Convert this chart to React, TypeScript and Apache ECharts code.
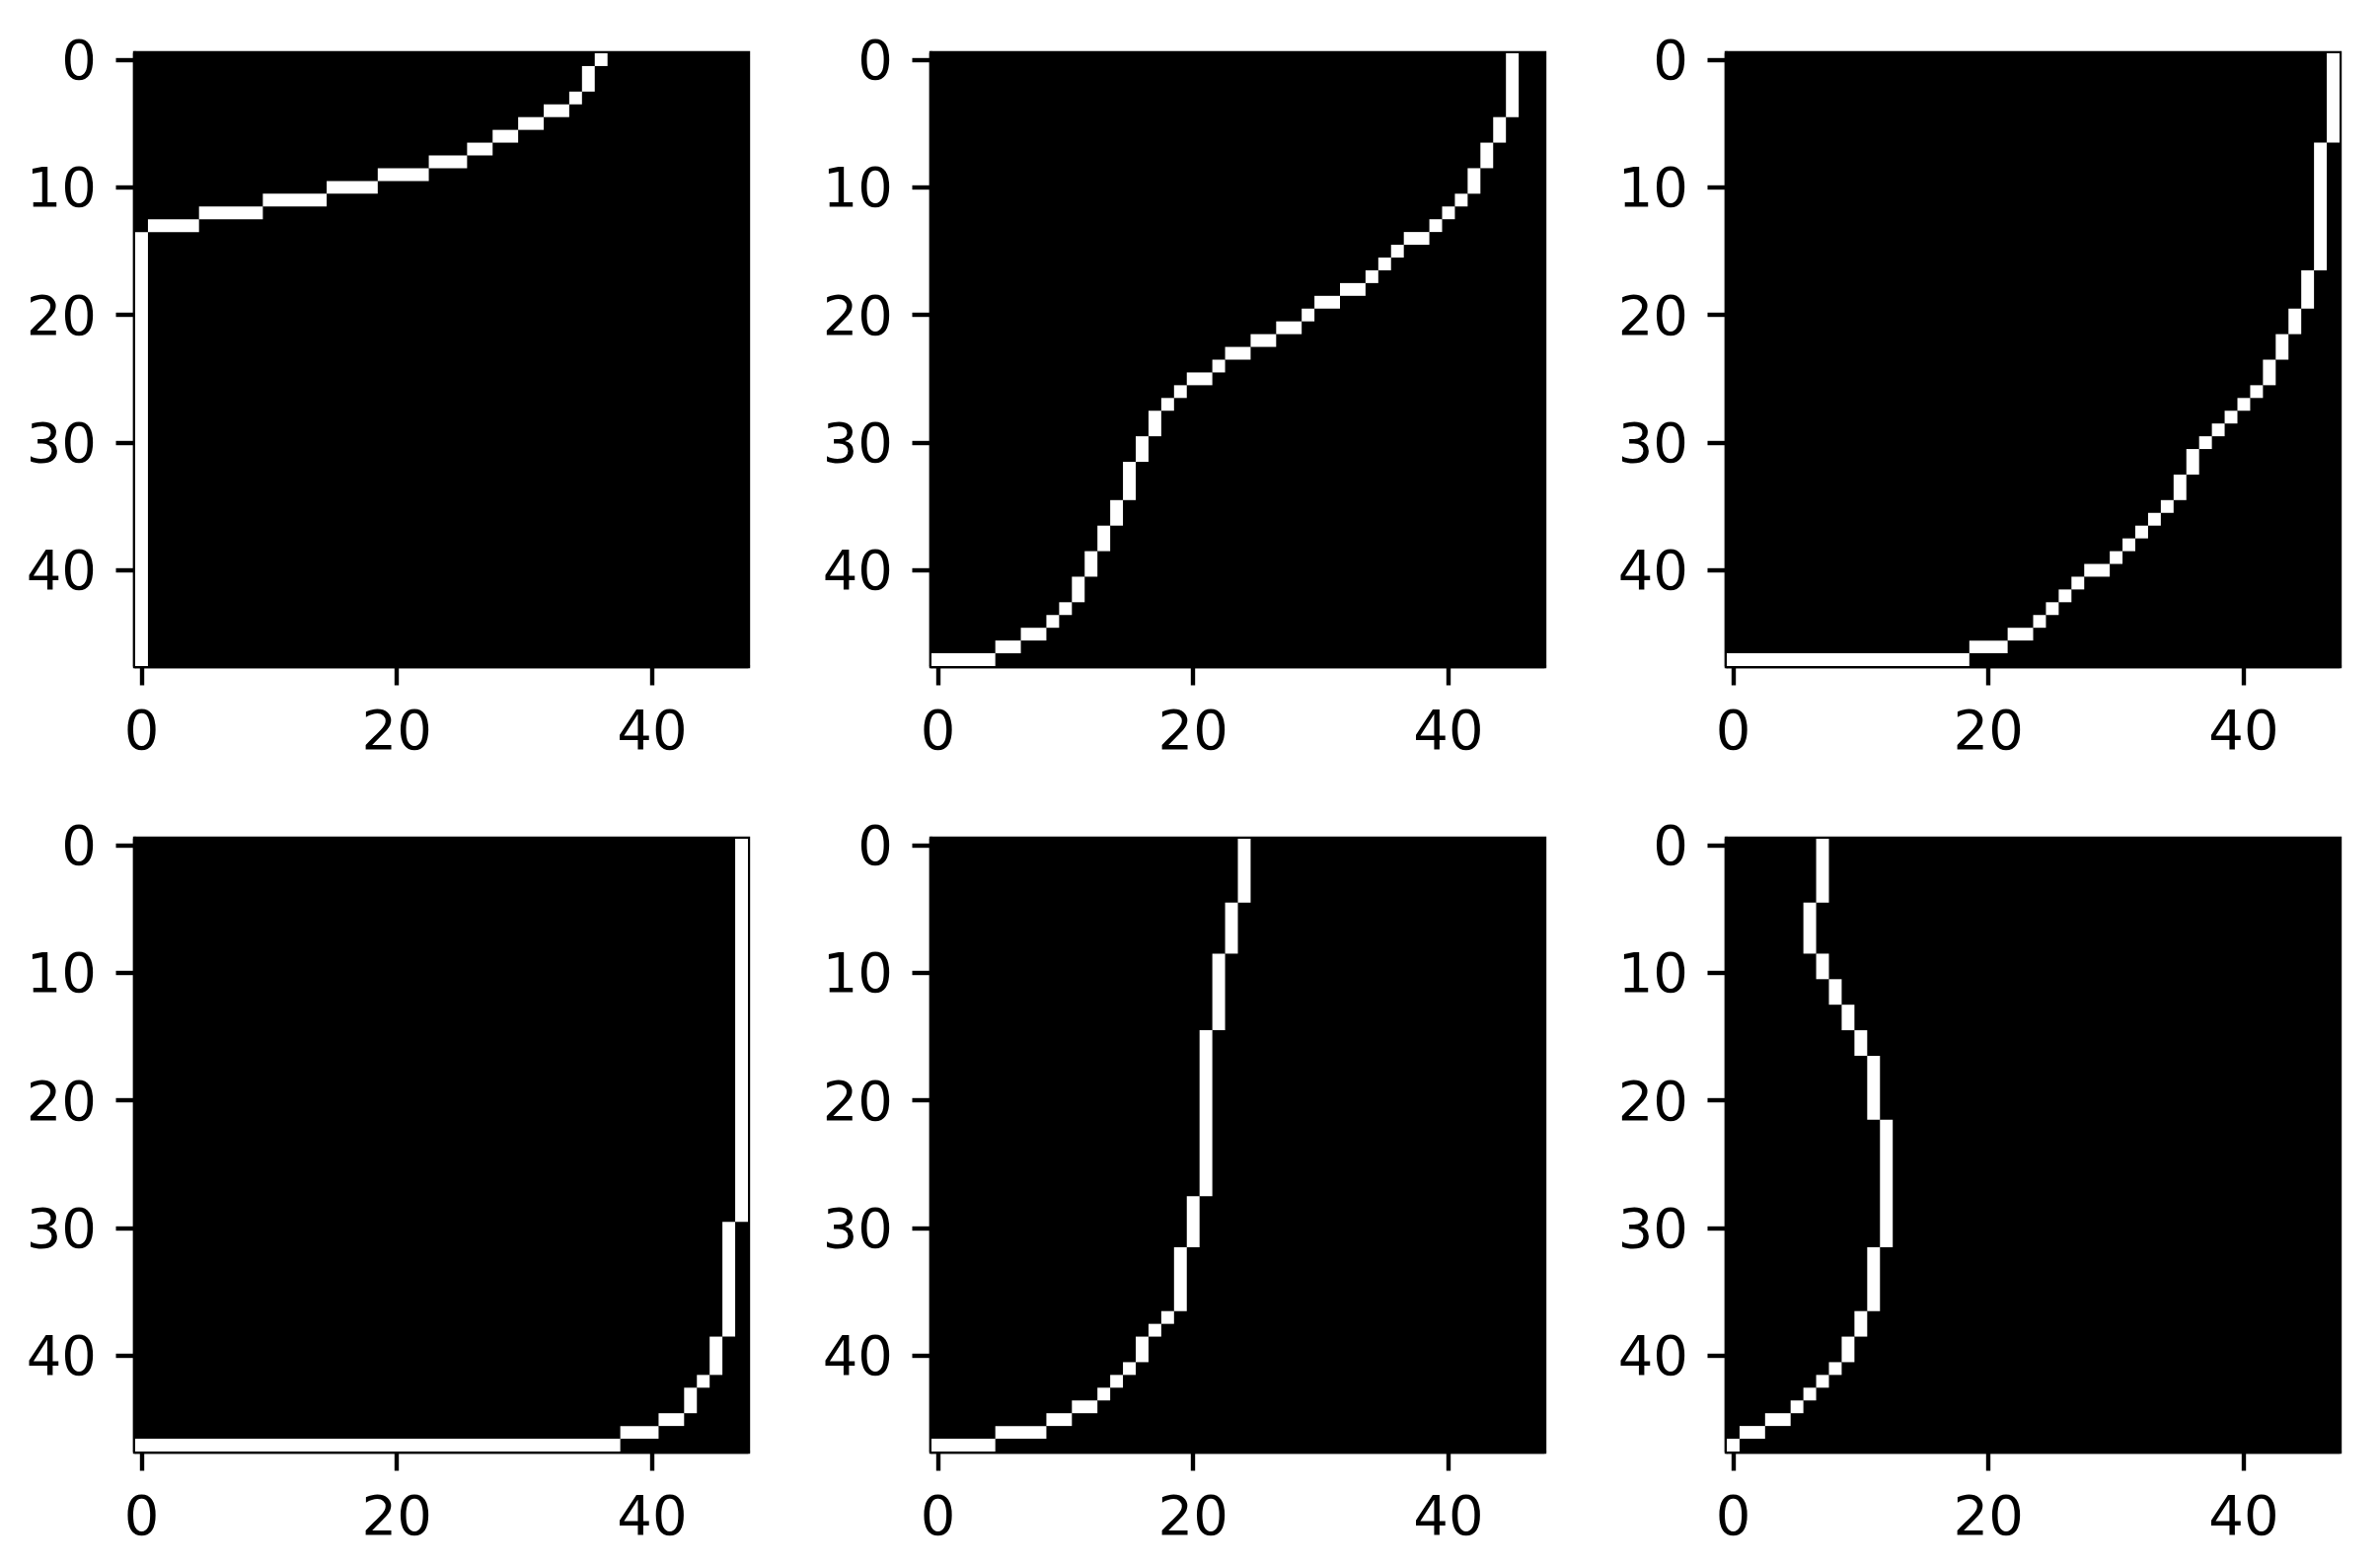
import React, { useEffect, useRef } from "react";
import * as echarts from "echarts";

// 48 x 48 binary image, pixel indices 0..47
const pixelIndices: string[] = Array.from({ length: 48 }, (_, i) => String(i));
const xTickLabels = ["0", "20", "40"];
const yTickLabels = ["0", "10", "20", "30", "40"];

// Runs of white pixels: [colStart, colEnd, rowStart, rowEnd]
const panel1 = [
  [36, 36, 0, 0], [35, 35, 1, 2], [34, 34, 3, 3], [32, 33, 4, 4], [30, 31, 5, 5],
  [28, 29, 6, 6], [26, 27, 7, 7], [23, 25, 8, 8], [19, 22, 9, 9], [15, 18, 10, 10],
  [10, 14, 11, 11], [5, 9, 12, 12], [1, 4, 13, 13], [0, 0, 14, 47],
];

const panel2 = [
  [45, 45, 0, 4], [44, 44, 5, 6], [43, 43, 7, 8], [42, 42, 9, 10], [41, 41, 11, 11],
  [40, 40, 12, 12], [39, 39, 13, 13], [37, 38, 14, 14], [36, 36, 15, 15], [35, 35, 16, 16],
  [34, 34, 17, 17], [32, 33, 18, 18], [30, 31, 19, 19], [29, 29, 20, 20], [27, 28, 21, 21],
  [25, 26, 22, 22], [23, 24, 23, 23], [22, 22, 24, 24], [20, 21, 25, 25], [19, 19, 26, 26],
  [18, 18, 27, 27], [17, 17, 28, 29], [16, 16, 30, 31], [15, 15, 32, 34], [14, 14, 35, 36],
  [13, 13, 37, 38], [12, 12, 39, 40], [11, 11, 41, 42], [10, 10, 43, 43], [9, 9, 44, 44],
  [7, 8, 45, 45], [5, 6, 46, 46], [0, 4, 47, 47],
];

const panel3 = [
  [47, 47, 0, 6], [46, 46, 7, 16], [45, 45, 17, 19], [44, 44, 20, 21], [43, 43, 22, 23],
  [42, 42, 24, 25], [41, 41, 26, 26], [40, 40, 27, 27], [39, 39, 28, 28], [38, 38, 29, 29],
  [37, 37, 30, 30], [36, 36, 31, 32], [35, 35, 33, 34], [34, 34, 35, 35], [33, 33, 36, 36],
  [32, 32, 37, 37], [31, 31, 38, 38], [30, 30, 39, 39], [28, 29, 40, 40], [27, 27, 41, 41],
  [26, 26, 42, 42], [25, 25, 43, 43], [24, 24, 44, 44], [22, 23, 45, 45], [19, 21, 46, 46],
  [0, 18, 47, 47],
];

const panel4 = [
  [47, 47, 0, 29], [46, 46, 30, 38], [45, 45, 39, 41], [44, 44, 42, 42], [43, 43, 43, 44],
  [41, 42, 45, 45], [38, 40, 46, 46], [0, 37, 47, 47],
];

const panel5 = [
  [24, 24, 0, 4], [23, 23, 5, 8], [22, 22, 9, 14], [21, 21, 15, 27], [20, 20, 28, 31],
  [19, 19, 32, 36], [18, 18, 37, 37], [17, 17, 38, 38], [16, 16, 39, 40], [15, 15, 41, 41],
  [14, 14, 42, 42], [13, 13, 43, 43], [11, 12, 44, 44], [9, 10, 45, 45], [5, 8, 46, 46],
  [0, 4, 47, 47],
];

const panel6 = [
  [7, 7, 0, 4], [6, 6, 5, 8], [7, 7, 9, 10], [8, 8, 11, 12], [9, 9, 13, 14],
  [10, 10, 15, 16], [11, 11, 17, 21], [12, 12, 22, 31], [11, 11, 32, 36], [10, 10, 37, 38],
  [9, 9, 39, 40], [8, 8, 41, 41], [7, 7, 42, 42], [6, 6, 43, 43], [5, 5, 44, 44],
  [3, 4, 45, 45], [1, 2, 46, 46], [0, 0, 47, 47],
];

const panels = [panel1, panel2, panel3, panel4, panel5, panel6];

const LEFTS = [137, 944, 1750];
const TOPS = [54, 850];
const SIZE = 621;
const LW = 4.4;
const FONT = "DejaVu Sans";

const renderRun = (params: any, api: any) => {
  const c0 = api.value(0);
  const c1 = api.value(1);
  const r0 = api.value(2);
  const r1 = api.value(3);
  const p0 = api.coord([c0, r0]);
  const p1 = api.coord([c1, r1]);
  const sz = api.size([1, 1]);
  const x = Math.min(p0[0], p1[0]) - sz[0] / 2;
  const y = Math.min(p0[1], p1[1]) - sz[1] / 2;
  return {
    type: "rect",
    shape: {
      x,
      y,
      width: Math.abs(p1[0] - p0[0]) + sz[0],
      height: Math.abs(p1[1] - p0[1]) + sz[1],
    },
    style: { fill: "#ffffff" },
  };
};

export default function App() {
  const ref = useRef<HTMLDivElement>(null);

  useEffect(() => {
    if (!ref.current) return;
    const chart = echarts.init(ref.current, undefined, { renderer: "svg" });

    const grids: any[] = [];
    const xAxes: any[] = [];
    const yAxes: any[] = [];
    const series: any[] = [];

    const xShow = (idx: number) => xTickLabels.includes(pixelIndices[idx]);
    const yShow = (idx: number) => yTickLabels.includes(pixelIndices[idx]);

    panels.forEach((data, i) => {
      const row = Math.floor(i / 3);
      const col = i % 3;
      grids.push({
        left: LEFTS[col],
        top: TOPS[row],
        width: SIZE,
        height: SIZE,
        show: true,
        backgroundColor: "#000000",
        borderColor: "#000000",
        borderWidth: LW,
        containLabel: false,
        outerBoundsMode: "none",
      });
      xAxes.push({
        gridIndex: i,
        type: "category",
        data: pixelIndices,
        boundaryGap: true,
        position: "bottom",
        axisLine: { show: true, lineStyle: { color: "#000", width: LW } },
        axisTick: {
          show: true,
          alignWithLabel: true,
          interval: (idx: number) => xShow(idx),
          length: 19.5,
          lineStyle: { color: "#000", width: LW },
        },
        axisLabel: {
          show: true,
          interval: (idx: number) => xShow(idx),
          margin: 36,
          fontSize: 56,
          fontFamily: FONT,
          color: "#000",
        },
        splitLine: { show: false },
      });
      yAxes.push({
        gridIndex: i,
        type: "category",
        data: pixelIndices,
        boundaryGap: true,
        inverse: true,
        position: "left",
        axisLine: { show: true, lineStyle: { color: "#000", width: LW } },
        axisTick: {
          show: true,
          alignWithLabel: true,
          interval: (idx: number) => yShow(idx),
          length: 19.5,
          lineStyle: { color: "#000", width: LW },
        },
        axisLabel: {
          show: true,
          interval: (idx: number) => yShow(idx),
          margin: 39,
          fontSize: 56,
          fontFamily: FONT,
          color: "#000",
        },
        splitLine: { show: false },
      });
      series.push({
        type: "custom",
        xAxisIndex: i,
        yAxisIndex: i,
        data,
        encode: { x: [0, 1], y: [2, 3] },
        renderItem: renderRun,
        silent: true,
        clip: true,
      });
    });

    chart.setOption({
      animation: false,
      backgroundColor: "#ffffff",
      grid: grids,
      xAxis: xAxes,
      yAxis: yAxes,
      series,
    });

    return () => chart.dispose();
  }, []);

  return (
    <div
      ref={ref}
      style={{
        position: "fixed",
        left: 0,
        top: 0,
        width: 2412,
        height: 1586,
        background: "#fff",
      }}
    />
  );
}
